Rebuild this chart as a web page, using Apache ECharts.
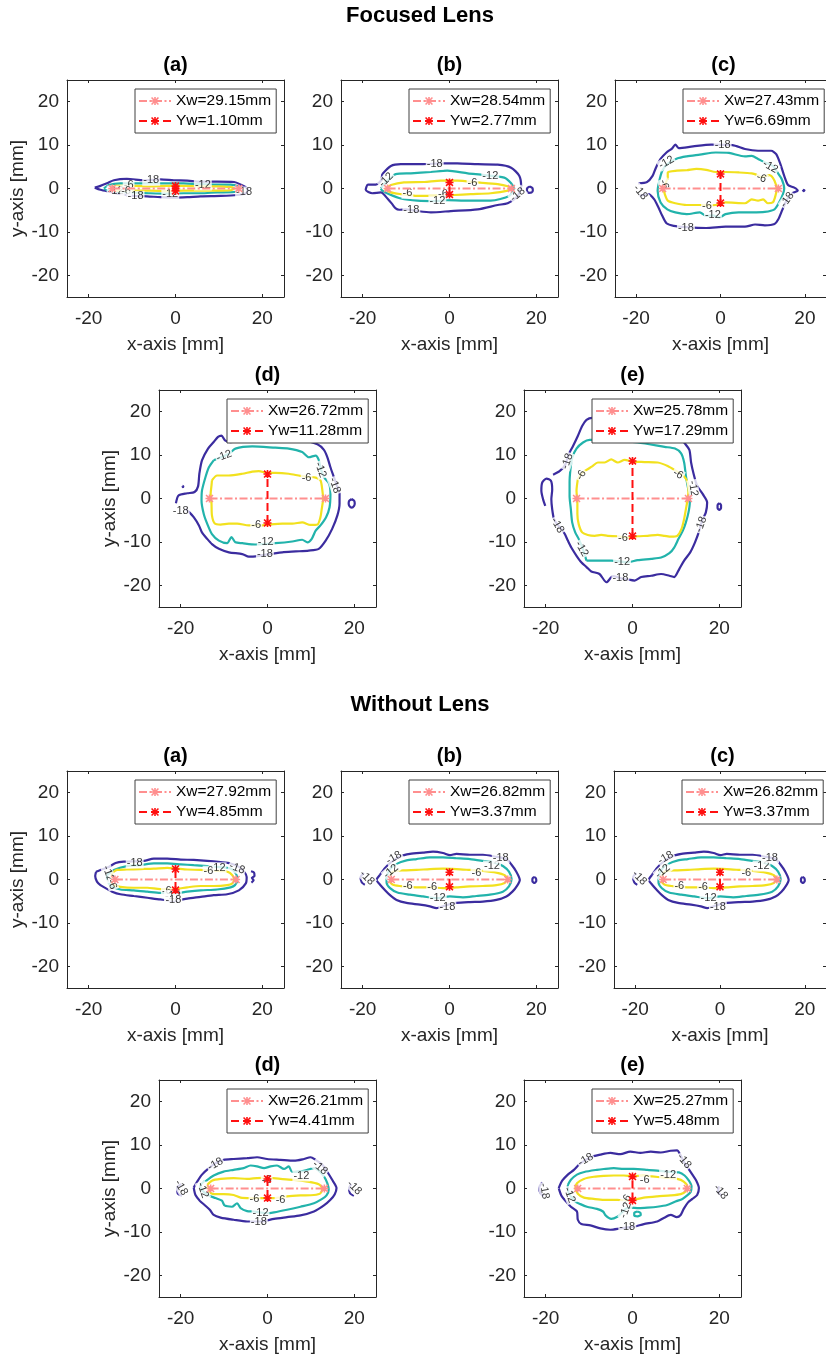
<!DOCTYPE html>
<html><head><meta charset="utf-8">
<script src="https://cdn.jsdelivr.net/npm/echarts@6/dist/echarts.min.js"></script>
<style>html,body{margin:0;padding:0;background:#fff}#c{width:826px;height:1358px}</style>
</head><body><div id="c"></div>
<script>
// ---------------- DATA ----------------
const SECTION_TITLES = ['Focused Lens', 'Without Lens'];
const PANEL_TITLES = ['(a)', '(b)', '(c)', '(d)', '(e)'];
const FOCUS_XW = [29.15, 28.54, 27.43, 26.72, 25.78];
const FOCUS_YW = [1.10, 2.77, 6.69, 11.28, 17.29];
const NOLENS_XW = [27.92, 26.82, 26.82, 26.21, 25.27];
const NOLENS_YW = [4.85, 3.37, 3.37, 4.41, 5.48];
const LEVELS = [-18, -12, -6];
const X_TICKS = [-20, 0, 20];
const Y_TICKS = [-20, -10, 0, 10, 20];

// contour pieces: [level -18, -12, -6]; labels: [x, y, text, rotation]
const Fa_18 = [[[-18.6,0.2],[-17.3,0.6],[-15.8,1.2],[-14.2,1.9],[-11.2,2.2],[-7.3,1.9],[-3.5,2.1],[-0.4,1.9],[2.7,1.8],[5.8,1.6],[9.6,1.6],[13.5,1.5],[14.8,1.0],[16.7,-0.2],[16.2,-1.1],[14.2,-1.5],[10.4,-1.7],[5.8,-1.8],[2.7,-2.0],[-0.4,-2.1],[-3.5,-2.0],[-6.5,-1.8],[-9.6,-1.7],[-12.7,-1.3],[-15.0,-0.8],[-17.3,-0.3],[-18.6,0.2]]];
const Fa_12 = [[[-16.5,0],[-15.4,0.8],[-12.7,1.2],[-9.6,1.2],[-5.8,1.2],[-1.9,1.2],[1.9,1.2],[5.8,1.0],[9.6,0.9],[12.7,0.9],[14.4,0.5],[14.6,-0.2],[13.5,-0.8],[9.6,-0.9],[5.8,-1.1],[1.9,-1.1],[-1.9,-1.2],[-5.8,-1.1],[-9.6,-0.9],[-12.7,-0.8],[-15.4,-0.5],[-16.5,0]]];
const Fa_6 = [[[-15.0,0.2],[-13.8,0.6],[-9.6,0.6],[-5.8,0.5],[-1.9,0.6],[1.9,0.6],[5.8,0.5],[9.6,0.5],[12.7,0.3],[13.5,0],[12.7,-0.4],[9.6,-0.5],[5.8,-0.5],[1.9,-0.5],[-1.9,-0.6],[-5.8,-0.5],[-9.6,-0.5],[-13.8,-0.5],[-15.0,-0.2],[-15.0,0.2]]];
const Fa_lbl = [[-5.6,1.9,'-18',0],[-10.8,0.7,'-6',0],[6.3,0.8,'-12',0],[-13.8,-0.6,'-12',0],[-11.4,-0.5,'-6',0],[-9.2,-1.8,'-18',0],[-1.2,-1.3,'-12',0],[15.8,-0.8,'-18',0]];

const Fb_18 = [
 [[-15.5,3.3],[-13.5,5.2],[-11.2,5.6],[-6.6,5.6],[-1.2,5.8],[1.8,5.8],[6.5,5.6],[11.1,5.5],[14.2,4.8],[16.1,2.9],[16.5,0.6],[15.7,-1.7],[13.4,-3.4],[11.1,-3.8],[6.5,-4.8],[0.3,-5.2],[-4.3,-5.5],[-7.4,-5.2],[-10.1,-4.8],[-11.6,-4.9],[-12.4,-4.6],[-13.2,-3.6],[-14.3,-2.3],[-15.8,-0.9],[-17.8,-1.1],[-19.3,-0.3],[-18.8,0.9],[-17.0,0.9],[-15.8,1.8],[-15.5,3.3]],
 [[18.5,0.45],[19.1,0.1],[19.2,-0.4],[18.9,-0.95],[18.3,-1.0],[17.85,-0.6],[17.85,0.0],[18.5,0.45]]
];
const Fb_12 = [[[-15.8,0],[-14.7,1.5],[-13.5,2.5],[-12.4,3.3],[-8.9,3.5],[-4.3,3.8],[-0.5,4.1],[4.2,3.5],[8.0,3.1],[12.6,2.5],[14.2,1.2],[14.8,0],[13.8,-1.7],[9.5,-2.8],[3.4,-2.8],[-0.5,-2.7],[-2.8,-2.9],[-7.4,-2.8],[-11.2,-2.3],[-13.9,-1.3],[-15.5,-0.5],[-15.8,0]]];
const Fb_6 = [[[-14.9,0],[-13.5,0.8],[-10.5,1.4],[-5.8,1.5],[-2,1.8],[1.8,1.8],[6.5,1.4],[11.1,1.0],[13.4,0.5],[14.0,0],[13.4,-0.5],[9.5,-1.1],[4.9,-1.3],[1.1,-1.5],[-2.8,-1.7],[-7.4,-1.7],[-11.2,-1.3],[-13.5,-0.9],[-14.9,0]]];
const Fb_lbl = [[-3.4,5.6,'-18',0],[-14.6,2.0,'-12',45],[5.3,1.2,'-6',0],[9.4,2.9,'-12',0],[-9.7,-1.1,'-6',0],[-1.5,-1.2,'-6',0],[-2.8,-2.8,'-12',0],[-8.8,-5.0,'-18',0],[15.7,-1.4,'-18',40]];

const Fc_18 = [
 [[-19.5,1.2],[-17.4,1.5],[-16.1,2.9],[-15.3,4.8],[-14.2,6.8],[-12.8,8.3],[-11.5,9.2],[-10.7,10.1],[-9.9,9.3],[-6.5,9.7],[-2.2,10.1],[2.8,10.0],[5.8,9.1],[8.9,8.7],[12.0,8.7],[13.2,7.9],[14.2,5.6],[15.1,2.9],[16.0,0.8],[17.5,0.2],[18.3,-0.5],[17.0,-1.1],[15.8,-2.5],[14.7,-4.8],[13.7,-7.1],[12.8,-8.2],[10.5,-8.5],[8.2,-8.3],[5.8,-8.8],[1.2,-8.8],[-3.4,-9.1],[-8.0,-8.9],[-11.1,-8.6],[-12.8,-8.0],[-13.8,-6.3],[-14.7,-4.4],[-15.7,-2.5],[-17.1,-1.3],[-19.2,-1.7]],
 [[19.5,-0.3],[19.9,-0.4],[19.7,-0.6],[19.5,-0.3]]
];
const Fc_12 = [[[-14.5,1.8],[-14.9,-0.5],[-14.2,-3.2],[-12.6,-4.8],[-10.7,-5.5],[-8.0,-5.9],[-4.9,-5.5],[-3.4,-6.3],[-1.8,-6.2],[-0.3,-6.7],[1.2,-5.9],[4.3,-5.5],[7.4,-5.5],[10.5,-5.4],[12.8,-4.8],[13.9,-3.2],[14.8,-1.3],[15.1,0],[14.5,2.2],[13.5,3.7],[12.4,5.2],[10.5,6.0],[8.9,6.8],[7.4,7.5],[5.8,7.4],[2.0,8.2],[-1.1,8.3],[-4.9,7.8],[-8.0,7.4],[-10.3,6.9],[-12.6,5.6],[-13.8,4.1],[-14.5,1.8]]];
const Fc_6 = [[[-12.5,2.4],[-12.5,3.7],[-10.3,4.1],[-8.0,4.2],[-5.7,4.5],[-3.4,4.3],[-1.1,3.8],[1.2,3.8],[4.3,3.7],[7.4,3.5],[8.5,3.2],[9.7,2.6],[11.6,3.1],[12.8,1.8],[13.3,-0.2],[12.9,-2.1],[12.4,-3.2],[11.2,-3.4],[10.1,-2.5],[8.9,-2.8],[7.4,-2.5],[5.8,-3.4],[1.2,-3.2],[-1.1,-3.8],[-3.0,-3.9],[-4.9,-3.8],[-8.0,-3.8],[-10.7,-3.4],[-12.5,-2.8],[-13.2,-1.3],[-13.4,-0.2],[-13.0,1.2],[-12.5,2.4]]];
const Fc_lbl = [[0.5,10.1,'-18',0],[-12.8,6.0,'-12',30],[11.8,5.0,'-12',-30],[-13.4,0.9,'-6',-70],[9.7,2.4,'-6',-20],[-19.0,-0.9,'-18',-50],[15.8,-2.6,'-18',55],[-3.2,-4.0,'-6',0],[-1.8,-6.0,'-12',0],[-8.2,-9.0,'-18',0]];

const Fd_18 = [
 [[-21.1,-1.1],[-20.5,0.7],[-18.5,1.2],[-16.8,1.5],[-16.0,2.8],[-15.7,5.7],[-15.1,8.8],[-13.7,11.5],[-12.4,13.0],[-11.4,14.2],[-10.6,14.5],[-9.8,13.4],[-8.5,13.0],[-5.8,13.4],[0.3,13.4],[8.0,13.4],[11.5,12.5],[13.0,11.2],[13.8,9.5],[14.5,7.2],[15.3,4.9],[16.1,2.6],[16.6,1.1],[16.6,-1.2],[16.1,-3.9],[14.9,-7.0],[13.4,-9.7],[11.8,-11.6],[9.5,-12.0],[6.5,-12.2],[3.4,-12.4],[0.3,-12.8],[-2.0,-13.2],[-4.3,-13.4],[-5.8,-12.8],[-8.9,-12.4],[-11.2,-11.6],[-12.8,-10.5],[-13.9,-9.3],[-15.1,-7.8],[-15.8,-6.2],[-17.0,-4.3],[-18.0,-3.2],[-18.9,-2.4]],
 [[19.4,-0.1],[19.95,-0.5],[20.1,-1.1],[19.95,-1.7],[19.4,-2.1],[18.85,-1.7],[18.7,-1.1],[18.85,-0.5],[19.4,-0.1]],
 [[-19.6,2.9],[-19.4,2.8],[-19.5,2.6],[-19.6,2.9]]
];
const Fd_12 = [[[-12.4,8.8],[-8.9,10.3],[-7.4,11.5],[-3.5,12.0],[1.8,11.7],[4.9,11.5],[8.0,10.7],[9.5,9.5],[11.1,9.9],[11.8,8.9],[12.3,6.8],[13.0,4.9],[14.2,3.4],[14.5,1.1],[14.3,-2.0],[13.5,-4.3],[12.2,-6.2],[11.1,-7.4],[10.2,-9.3],[9.2,-10.1],[8.0,-9.5],[5.7,-9.9],[1.8,-10.3],[-2.8,-10.6],[-5.8,-10.3],[-7.4,-10.1],[-8.3,-8.9],[-9.3,-10.3],[-11.2,-9.7],[-12.8,-8.2],[-13.9,-5.8],[-14.7,-3.5],[-15.2,-0.5],[-15.1,1.8],[-14.3,4.9],[-13.5,7.2],[-12.4,8.8]]];
const Fd_6 = [[[-12.8,4.2],[-11.6,5.3],[-8.9,5.3],[-5.8,5.7],[-3.5,6.2],[-2.0,6.3],[0,5.9],[1.8,5.9],[4.9,5.7],[7.6,5.2],[9.3,5.0],[11.1,4.8],[12.2,4.2],[12.6,2.2],[12.8,-0.1],[12.5,-2.4],[12.2,-4.3],[11.5,-6.0],[9.9,-6.1],[8.0,-5.5],[5.7,-5.8],[3.4,-5.8],[0.3,-6.0],[-1.6,-6.2],[-4.3,-6.2],[-7.0,-5.8],[-8.9,-5.8],[-10.8,-6.0],[-12.2,-5.7],[-12.8,-3.9],[-12.9,-1.2],[-13.1,1.1],[-12.9,3.0],[-12.8,4.2]]];
const Fd_lbl = [[-10.0,9.8,'-12',20],[9.0,4.7,'-6',0],[12.2,6.6,'-12',-70],[15.5,3.0,'-18',-70],[-20.0,-2.9,'-18',0],[-2.6,-6.2,'-6',0],[-0.4,-10.0,'-12',0],[-0.6,-12.8,'-18',0]];

const Fe_18 = [
 [[-18.3,5.5],[-16.8,6.3],[-15.5,7.8],[-14.7,10.2],[-13.7,12.1],[-12.6,14.4],[-11.6,16.7],[-10.6,18.1],[-9.3,18.6],[-6.4,18.4],[1.2,18.2],[8.9,16.7],[11.9,12.9],[13.1,11.2],[13.5,8.3],[14.1,5.6],[14.9,2.9],[16.2,1.0],[17.2,-0.9],[16.9,-3.2],[16.2,-4.7],[15.8,-5.9],[15.4,-7.4],[14.4,-10.1],[13.3,-12.4],[11.9,-14.3],[10.8,-16.2],[9.6,-18.1],[8.5,-17.8],[6.6,-17.4],[4.3,-17.8],[2.0,-18.1],[0.5,-18.9],[-1.1,-18.7],[-2.6,-18.4],[-4.5,-17.9],[-6.0,-19.3],[-7.6,-17.4],[-9.5,-16.8],[-10.6,-15.8],[-11.8,-14.7],[-12.9,-13.2],[-14.1,-11.3],[-14.9,-9.7],[-15.6,-8.2],[-16.4,-7.0],[-17.3,-6.0],[-18.1,-4.7],[-18.5,-2.5],[-18.7,-0.2],[-18.5,2.1],[-18.8,4.1],[-19.8,4.6],[-20.8,3.7],[-21.0,1.8],[-20.6,-0.2],[-20.1,-1.7]],
 [[20.0,-1.1],[20.4,-1.5],[20.4,-2.2],[20.0,-2.6],[19.6,-2.2],[19.6,-1.5],[20.0,-1.1]]
];
const Fe_12 = [[[-10.6,-14.3],[-8.0,-14.3],[-4.9,-14.3],[-1.1,-14.7],[1.2,-14.2],[4.3,-13.9],[6.6,-13.6],[8.5,-12.6],[9.6,-11.3],[10.6,-9.3],[11.6,-7.4],[12.3,-5.5],[12.9,-3.2],[13.2,-0.9],[13.1,1.0],[12.7,2.9],[12.3,5.2],[11.9,8.3],[11.2,10.4],[9.8,11.5],[7.4,11.9],[1.2,12.9],[-6.4,13.5],[-9.9,13.5],[-11.4,12.9],[-12.9,11.5],[-13.9,9.4],[-14.3,6.7],[-14.5,3.7],[-14.5,0.6],[-14.2,-2.5],[-13.9,-5.5],[-13.2,-7.8],[-12.4,-9.3],[-11.8,-10.7],[-11.2,-12.4],[-10.6,-14.3]]];
const Fe_6 = [[[-12.6,4.4],[-11.8,5.7],[-10.6,6.6],[-9.3,7.4],[-8.0,8.3],[-6.4,8.3],[-4.9,9.0],[-3.4,8.3],[-1.8,8.9],[0,8.5],[2.8,8.4],[5.8,8.3],[8.1,7.5],[10.0,6.4],[11.8,5.2],[12.7,3.7],[12.9,1.8],[12.7,-0.2],[12.3,-2.5],[11.9,-4.7],[11.3,-7.0],[10.3,-8.6],[8.9,-8.8],[7.4,-8.6],[5.8,-8.4],[3.5,-8.6],[1.2,-8.7],[-1.1,-9.0],[-3.4,-8.7],[-5.7,-8.6],[-7.2,-8.4],[-8.7,-8.6],[-10.3,-8.4],[-11.6,-7.8],[-12.4,-5.9],[-12.7,-3.6],[-12.7,-0.9],[-12.9,1.8],[-12.6,4.4]]];
const Fe_lbl = [[-15.0,8.6,'-18',70],[-11.8,5.4,'-6',60],[10.5,5.6,'-6',-30],[14.0,2.3,'-12',-80],[15.8,-6.0,'-18',70],[-17.3,-6.2,'-18',-60],[-2.2,-9.1,'-6',0],[-11.7,-11.6,'-12',-60],[-2.4,-14.6,'-12',0],[-2.8,-18.4,'-18',0]];

const Wa_18 = [
 [[-18.3,1.8],[-17.3,2.2],[-15.4,2.9],[-13.8,3.8],[-11.9,4.1],[-7.3,4.3],[-5.0,4.8],[-1.9,4.8],[1.2,4.6],[4.2,4.5],[7.3,4.3],[10.4,4.0],[12.7,3.7],[14.6,2.9],[15.8,1.8],[16.4,0.6],[16.2,-0.9],[14.6,-2.5],[11.9,-3.4],[8.8,-3.6],[5.8,-4.0],[2.7,-4.4],[-0.4,-4.9],[-3.5,-4.6],[-6.5,-4.2],[-9.6,-3.8],[-12.7,-3.4],[-14.6,-2.8],[-15.9,-2.1],[-17.3,-1.3],[-18.1,-0.5],[-18.5,0.8],[-18.3,1.8]],
 [[17.4,1.9],[18.1,1.6],[18.2,0.8],[17.6,0.4],[18.0,-0.2],[17.5,-0.7]]
];
const Wa_12 = [[[-15.8,1.0],[-14.2,2.2],[-11.2,3.1],[-8.1,3.3],[-5.0,3.7],[-1.9,3.7],[1.2,3.5],[4.2,3.3],[7.3,3.1],[10.8,2.8],[12.7,2.5],[13.6,1.8],[14.2,0.6],[14.2,-0.3],[13.7,-1.3],[12.7,-1.8],[9.6,-2.3],[5.8,-2.5],[2.7,-2.8],[-0.4,-3.2],[-3.5,-3.1],[-6.5,-2.8],[-9.6,-2.5],[-12.7,-2.3],[-14.5,-1.7],[-15.4,-0.9],[-15.8,0.1],[-15.8,1.0]]];
const Wa_6 = [[[-14.6,1.5],[-13.5,2.2],[-11.2,2.3],[-8.1,2.4],[-5.0,2.5],[-1.9,2.7],[0.4,2.5],[2.7,2.3],[5.8,2.2],[8.8,2.0],[11.9,1.8],[13.1,1.0],[13.5,0],[13.1,-0.9],[11.9,-1.3],[8.8,-1.5],[5.8,-1.5],[2.7,-1.8],[-0.4,-2.2],[-3.5,-2.2],[-6.5,-1.9],[-9.6,-1.9],[-12.7,-1.7],[-14.2,-1.3],[-14.8,-0.2],[-14.6,1.5]]];
const Wa_lbl = [[-9.4,3.8,'-18',0],[-15.5,1.4,'-12',-70],[-14.6,-1.1,'-6',-70],[9.7,2.7,'-12',0],[7.6,1.9,'-6',0],[14.2,2.6,'-18',-20],[-2.0,-2.7,'-6',0],[-0.6,-3.7,'-12',0],[-0.5,-4.8,'-18',0]];

const Wb_18 = [
 [[-16.0,1.1],[-14.9,2.6],[-13.7,3.8],[-11.4,5.3],[-9.1,5.9],[-6.1,6.2],[-3.8,6.4],[-1.5,6.1],[0.1,5.6],[1.6,5.9],[4.7,5.7],[7.7,5.7],[10.4,5.3],[13.1,4.7],[14.3,3.4],[15.4,1.8],[16.2,-0.1],[15.6,-1.4],[14.5,-2.8],[13.1,-3.9],[10.8,-4.7],[7.7,-5.1],[4.7,-5.2],[1.6,-5.4],[-0.7,-5.9],[-3.0,-6.6],[-4.5,-6.2],[-6.8,-5.8],[-9.9,-5.4],[-12.2,-4.7],[-13.7,-3.6],[-14.9,-2.4],[-16.0,-1.2],[-16.8,-0.1],[-16.0,1.1]],
 [[-19.7,1.5],[-20.5,0.5],[-20.2,-0.7],[-19.5,-1.2]],
 [[19.5,0.6],[19.9,0.3],[20.0,-0.3],[19.6,-0.8],[19.1,-0.4],[19.1,0.2],[19.5,0.6]]
];
const Wb_12 = [[[-14.5,0.7],[-13.7,2.4],[-12.2,3.6],[-9.9,4.4],[-7.6,4.7],[-4.5,5.1],[-1.5,5.1],[1.6,4.9],[4.7,4.7],[7.7,4.3],[10.4,3.9],[12.3,3.1],[13.7,1.8],[14.3,0.1],[13.7,-1.6],[12.3,-2.8],[9.3,-3.5],[6.2,-3.8],[3.1,-4.1],[0.1,-3.9],[-3.0,-4.3],[-6.1,-3.9],[-9.1,-3.5],[-12.0,-3.0],[-13.7,-2.0],[-14.5,-0.7],[-14.5,0.7]]];
const Wb_6 = [[[-13.7,0.8],[-13.0,1.8],[-10.7,2.1],[-7.6,2.2],[-4.5,2.4],[-1.5,2.5],[1.6,2.4],[4.7,2.2],[7.7,2.0],[10.8,1.6],[12.7,1.0],[13.3,0.1],[12.7,-0.8],[10.8,-1.3],[7.7,-1.5],[4.7,-1.6],[1.6,-1.8],[-1.5,-2.0],[-4.5,-1.8],[-7.6,-1.8],[-10.7,-1.6],[-13.0,-1.2],[-13.7,-0.5],[-13.7,0.8]]];
const Wb_lbl = [[-12.8,5.0,'-18',30],[-13.5,1.9,'-12',40],[6.2,1.6,'-6',0],[9.8,3.1,'-12',0],[11.8,5.0,'-18',0],[-9.6,-1.5,'-6',0],[-4.0,-1.8,'-6',0],[-2.7,-4.3,'-12',0],[-0.5,-6.3,'-18',0],[-19.0,0.4,'-18',-45]];

const Wd_18 = [
 [[-17.0,0.2],[-16.2,1.6],[-15.1,3.2],[-13.5,4.7],[-12.0,5.8],[-10.1,6.6],[-7.8,6.8],[-4.7,7.0],[-2.4,7.2],[-0.1,6.8],[3.0,6.6],[6.1,6.4],[8.4,6.8],[9.9,7.2],[11.1,6.6],[12.6,5.5],[13.8,3.8],[14.9,2.0],[15.9,0.1],[15.5,-1.3],[14.5,-2.6],[13.0,-3.9],[10.7,-5.3],[7.6,-6.2],[4.5,-6.6],[1.5,-7.0],[-1.6,-7.6],[-4.7,-7.6],[-7.8,-7.2],[-10.8,-6.7],[-12.4,-6.1],[-13.3,-4.9],[-14.5,-3.8],[-15.6,-2.8],[-16.6,-1.5],[-17.0,0.2]],
 [[-19.9,1.0],[-20.8,0.2],[-20.7,-1.1],[-19.7,-1.7]],
 [[19.3,1.0],[18.8,0.1],[19.0,-1.1],[19.9,-1.7]]
];
const Wd_12 = [[[-14.1,1.8],[-12.4,3.0],[-10.1,3.9],[-7.8,4.3],[-5.5,4.7],[-3.9,5.3],[-2.4,5.1],[-0.8,4.7],[0.7,5.1],[2.2,5.3],[3.8,4.5],[4.9,5.1],[5.7,3.8],[7.6,3.9],[9.2,4.3],[10.7,4.7],[11.8,4.1],[13.0,2.8],[13.8,1.2],[14.1,-0.3],[13.6,-1.6],[12.6,-2.4],[10.7,-3.4],[7.6,-4.2],[4.5,-4.9],[1.5,-5.5],[-0.1,-5.7],[-3.2,-5.3],[-4.7,-5.2],[-6.2,-4.5],[-7.0,-3.4],[-8.2,-4.2],[-9.9,-3.9],[-10.5,-2.8],[-12.0,-2.2],[-13.5,-1.6],[-14.8,-0.7],[-15.5,0.5],[-14.8,1.5],[-14.1,1.8]]];
const Wd_6 = [[[-13.9,0.8],[-12.8,1.8],[-10.8,2.2],[-7.8,2.4],[-4.7,2.2],[-2.4,2.4],[-0.1,2.5],[3.0,2.2],[6.1,2.0],[9.2,1.6],[11.8,1.0],[12.6,0.1],[12.2,-1.1],[10.7,-1.5],[7.6,-1.6],[4.5,-1.8],[1.5,-2.2],[-0.8,-2.2],[-3.9,-2.2],[-6.2,-2.1],[-7.8,-1.5],[-10.1,-1.3],[-12.4,-1.3],[-13.5,-0.7],[-13.9,0.8]]];
const Wd_lbl = [[-12.0,5.6,'-18',30],[-14.9,-0.4,'-12',-70],[-0.2,2.0,'-6',0],[7.8,2.9,'-12',0],[12.1,4.8,'-18',-40],[-19.9,0.2,'-18',-60],[20.0,0.2,'-18',-45],[-3.0,-2.4,'-6',0],[3.0,-2.6,'-6',0],[-1.6,-5.6,'-12',0],[-2.0,-7.6,'-18',0]];

const We_18 = [
 [[-17.0,0.1],[-16.2,1.8],[-14.9,3.2],[-13.5,4.3],[-12.2,5.6],[-9.7,7.2],[-7.4,7.8],[-5.1,8.2],[-2.8,7.9],[-0.5,8.5],[1.8,8.2],[4.2,8.5],[6.5,8.3],[8.8,8.7],[10.3,8.8],[10.8,8.2],[11.8,6.2],[12.8,4.7],[13.8,3.2],[14.7,1.8],[15.3,0.1],[14.9,-1.5],[13.8,-2.4],[12.8,-3.2],[11.8,-4.7],[11.1,-6.1],[10.2,-6.6],[8.8,-6.1],[7.2,-6.8],[5.7,-7.6],[2.6,-8.2],[0.3,-8.8],[-2.8,-9.2],[-5.1,-9.5],[-7.4,-9.2],[-9.7,-8.5],[-11.8,-8.2],[-12.6,-7.2],[-12.8,-5.3],[-14.2,-4.2],[-15.3,-3.0],[-16.4,-1.6],[-17.0,0.1]],
 [[-20.8,1.4],[-21.5,0.2],[-21.2,-1.1],[-20.5,-1.8]],
 [[19.9,0.5],[19.7,-0.7],[20.5,-1.6]]
];
const We_12 = [
 [[-14.9,0.8],[-14.2,2.0],[-12.8,3.2],[-11.1,3.8],[-8.2,4.3],[-6.6,4.5],[-4.3,4.7],[-2.0,4.5],[0.3,4.5],[3.4,4.3],[5.7,4.1],[8.8,3.8],[10.7,3.7],[12.0,3.0],[13.0,1.8],[13.6,0.5],[13.4,-0.8],[12.6,-1.6],[11.5,-2.4],[9.9,-3.0],[8.0,-3.8],[5.7,-4.2],[3.4,-4.4],[1.5,-4.5],[-0.5,-4.4],[-1.6,-4.7],[-2.6,-5.7],[-3.5,-6.5],[-4.9,-7.0],[-6.2,-6.2],[-6.8,-5.3],[-8.2,-4.7],[-10.5,-4.2],[-12.0,-3.6],[-13.2,-3.0],[-13.9,-2.2],[-14.7,-1.1],[-14.9,0.8]],
 [[1.1,-5.3],[1.8,-5.6],[1.9,-6.1],[1.2,-6.4],[0.4,-6.2],[0.4,-5.6],[1.1,-5.3]]
];
const We_6 = [[[-13.2,0.1],[-12.8,1.2],[-11.2,2.2],[-8.9,2.7],[-6.6,2.9],[-4.3,3.0],[-2.0,3.0],[0,2.8],[2.6,3.0],[4.5,2.8],[7.2,2.5],[10.3,2.2],[11.8,1.6],[12.6,0.5],[12.2,-0.7],[11.1,-1.3],[8.8,-1.6],[5.7,-1.8],[2.6,-2.1],[0.3,-2.6],[-1.2,-2.8],[-3.5,-2.6],[-6.6,-2.6],[-8.9,-2.4],[-11.2,-2.1],[-12.6,-1.2],[-13.2,0.1]]];
const We_lbl = [[-10.8,6.6,'-18',30],[2.8,2.0,'-6',0],[8.2,3.2,'-12',0],[11.9,6.3,'-18',-50],[-20.3,-0.6,'-18',-80],[20.3,-0.8,'-18',-50],[-14.5,-1.5,'-12',-70],[-1.4,-2.6,'-6',60],[-1.6,-5.0,'-12',70],[-1.2,-8.9,'-18',0]];

// ---------------- LAYOUT / STYLE ----------------
const FONT = "'Liberation Sans', Arial, Helvetica, sans-serif";
const AX = '#262626';
const LEVEL_COLORS = ['#3b2c9f', '#22b3ab', '#f2e11e'];
const XW_COLOR = '#ff8f8f';
const YW_COLOR = '#ff1010';
const ASTER = 'path://M4,0H6V4H10V6H6V10H4V6H0V4H4Z M1.4,0L5,3.6L8.6,0L10,1.4L6.4,5L10,8.6L8.6,10L5,6.4L1.4,10L0,8.6L3.6,5L0,1.4Z';
const SIZE = 217;

const PANELS = [
  {left:67,  top:80,   title:PANEL_TITLES[0], xw:FOCUS_XW[0], yw:FOCUS_YW[0], c:[Fa_18,Fa_12,Fa_6], lbl:Fa_lbl, yName:true},
  {left:341, top:80,   title:PANEL_TITLES[1], xw:FOCUS_XW[1], yw:FOCUS_YW[1], c:[Fb_18,Fb_12,Fb_6], lbl:Fb_lbl, yName:false},
  {left:615, top:80,   title:PANEL_TITLES[2], xw:FOCUS_XW[2], yw:FOCUS_YW[2], c:[Fc_18,Fc_12,Fc_6], lbl:Fc_lbl, yName:false},
  {left:159, top:390,  title:PANEL_TITLES[3], xw:FOCUS_XW[3], yw:FOCUS_YW[3], c:[Fd_18,Fd_12,Fd_6], lbl:Fd_lbl, yName:true},
  {left:524, top:390,  title:PANEL_TITLES[4], xw:FOCUS_XW[4], yw:FOCUS_YW[4], c:[Fe_18,Fe_12,Fe_6], lbl:Fe_lbl, yName:false},
  {left:67,  top:771,  title:PANEL_TITLES[0], xw:NOLENS_XW[0], yw:NOLENS_YW[0], c:[Wa_18,Wa_12,Wa_6], lbl:Wa_lbl, yName:true},
  {left:341, top:771,  title:PANEL_TITLES[1], xw:NOLENS_XW[1], yw:NOLENS_YW[1], c:[Wb_18,Wb_12,Wb_6], lbl:Wb_lbl, yName:false},
  {left:614, top:771,  title:PANEL_TITLES[2], xw:NOLENS_XW[2], yw:NOLENS_YW[2], c:[Wb_18,Wb_12,Wb_6], lbl:Wb_lbl, yName:false},
  {left:159, top:1080, title:PANEL_TITLES[3], xw:NOLENS_XW[3], yw:NOLENS_YW[3], c:[Wd_18,Wd_12,Wd_6], lbl:Wd_lbl, yName:true},
  {left:524, top:1080, title:PANEL_TITLES[4], xw:NOLENS_XW[4], yw:NOLENS_YW[4], c:[We_18,We_12,We_6], lbl:We_lbl, yName:false}
];

const grids = [], xAxes = [], yAxes = [], series = [], legends = [], graphics = [];

graphics.push({type:'text', x:420, y:16, style:{text:SECTION_TITLES[0], font:"bold 22px " + FONT, fill:'#000', align:'center', verticalAlign:'middle'}});
graphics.push({type:'text', x:420, y:705, style:{text:SECTION_TITLES[1], font:"bold 22px " + FONT, fill:'#000', align:'center', verticalAlign:'middle'}});

PANELS.forEach((p, i) => {
  grids.push({left:p.left, top:p.top, width:SIZE, height:SIZE, containLabel:false});
  const line = {show:true, onZero:false, lineStyle:{color:AX, width:1}};
  const tick = vals => ({show:true, inside:true, length:3, customValues:vals, lineStyle:{color:AX, width:1}});
  xAxes.push({gridIndex:i, type:'value', min:-25, max:25, position:'bottom', axisLine:line, axisTick:tick(X_TICKS),
    axisLabel:{customValues:X_TICKS, fontSize:19, color:AX, fontFamily:FONT, margin:12}, splitLine:{show:false},
    name:'x-axis [mm]', nameLocation:'middle', nameGap:38, nameTextStyle:{fontSize:19, color:AX, fontFamily:FONT}});
  xAxes.push({gridIndex:i, type:'value', min:-25, max:25, position:'top', axisLine:line, axisTick:tick(X_TICKS),
    axisLabel:{show:false}, splitLine:{show:false}});
  yAxes.push({gridIndex:i, type:'value', min:-25, max:25, position:'left', axisLine:line, axisTick:tick(Y_TICKS),
    axisLabel:{customValues:Y_TICKS, fontSize:19, color:AX, fontFamily:FONT, margin:8}, splitLine:{show:false},
    name:p.yName ? 'y-axis [mm]' : '', nameLocation:'middle', nameGap:37, nameTextStyle:{fontSize:19, color:AX, fontFamily:FONT}});
  yAxes.push({gridIndex:i, type:'value', min:-25, max:25, position:'right', axisLine:line, axisTick:tick(Y_TICKS),
    axisLabel:{show:false}, splitLine:{show:false}});

  graphics.push({type:'text', x:p.left + SIZE/2, y:p.top - 15, style:{text:p.title, font:"bold 20px " + FONT, fill:'#000', align:'center', verticalAlign:'middle'}});

  p.c.forEach((pieces, li) => {
    pieces.forEach(pts => {
      series.push({type:'line', xAxisIndex:2*i, yAxisIndex:2*i, data:pts, symbol:'none', smooth:0.25,
        lineStyle:{color:LEVEL_COLORS[li], width:2.2}, silent:true, animation:false, z:2});
    });
  });

  series.push({type:'scatter', xAxisIndex:2*i, yAxisIndex:2*i, symbolSize:1, silent:true, animation:false, z:3,
    itemStyle:{color:'rgba(0,0,0,0)'},
    data:p.lbl.map(l => ({value:[l[0], l[1]], name:l[2], label:{rotate:l[3]}})),
    label:{show:true, position:'inside', formatter:'{b}', fontSize:11, color:'#000', fontFamily:FONT,
      backgroundColor:'#fff', padding:[0,1,0,1]}});

  const xName = 'Xw=' + p.xw.toFixed(2) + 'mm';
  const yName = 'Yw=' + p.yw.toFixed(2) + 'mm';
  series.push({name:xName, type:'line', xAxisIndex:2*i, yAxisIndex:2*i, data:[[-p.xw/2, 0], [p.xw/2, 0]],
    symbol:ASTER, symbolSize:8, showSymbol:true, lineStyle:{color:XW_COLOR, width:2, type:[8,2.5,2,2.5]},
    itemStyle:{color:XW_COLOR}, silent:true, animation:false, z:4});
  series.push({name:yName, type:'line', xAxisIndex:2*i, yAxisIndex:2*i, data:[[0, -p.yw/2], [0, p.yw/2]],
    symbol:ASTER, symbolSize:8, showSymbol:true, lineStyle:{color:YW_COLOR, width:2, type:[8,4]},
    itemStyle:{color:YW_COLOR}, silent:true, animation:false, z:4});

  legends.push({data:[xName, yName], orient:'vertical', left:p.left + 68, top:p.top + 9,
    itemWidth:32, itemHeight:10, itemGap:4, padding:[4,5,4,3], backgroundColor:'#fff',
    borderColor:'#404040', borderWidth:1, selectedMode:false, z:6,
    textStyle:{fontSize:15.5, fontFamily:FONT, color:'#000', lineHeight:16}});
});

const chart = echarts.init(document.getElementById('c'), null, {renderer:'canvas'});
chart.setOption({
  animation:false,
  backgroundColor:'#fff',
  grid:grids, xAxis:xAxes, yAxis:yAxes, series:series, legend:legends, graphic:graphics
});
</script></body></html>
